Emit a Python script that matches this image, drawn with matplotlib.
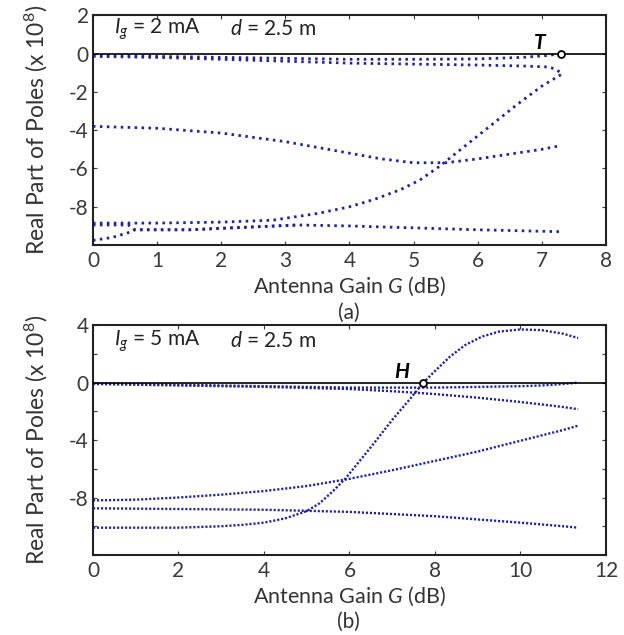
import matplotlib
matplotlib.use("Agg")
import matplotlib.pyplot as plt

plt.rcParams['font.family'] = ['Lato', 'DejaVu Sans']
plt.rcParams['mathtext.fontset'] = 'custom'
plt.rcParams['mathtext.rm'] = 'Lato'
plt.rcParams['mathtext.it'] = 'Lato:italic'

# ---- panel (a): Ig = 2 mA ----
a_g1 = [0, 1, 2, 3, 4, 5, 6, 6.7, 7.1, 7.3]
a_y1 = [-0.1, -0.15, -0.2, -0.25, -0.3, -0.3, -0.28, -0.2, -0.1, 0.0]
a_g2 = [0, 1, 2, 3, 4, 5, 6, 6.7, 7.1, 7.2, 7.3]
a_y2 = [-0.15, -0.2, -0.3, -0.4, -0.5, -0.55, -0.6, -0.65, -0.7, -0.8, -1.0]
a_g3 = [0, 1, 2, 3, 4, 4.5, 5, 5.5, 6, 6.5, 7, 7.3]
a_y3 = [-3.8, -3.9, -4.15, -4.6, -5.2, -5.5, -5.7, -5.7, -5.5, -5.25, -5.0, -4.8]
a_g4 = [0, 1, 2, 2.8, 3.5, 4, 4.4, 4.8, 5.1, 5.4, 6.0, 6.6, 7.0, 7.3]
a_y4 = [-8.85, -8.85, -8.8, -8.7, -8.35, -8.0, -7.6, -7.1, -6.6, -5.9, -4.3, -2.7, -1.7, -1.1]
a_g5 = [0, 0.55, 0.65, 1.5, 2.5, 3.2, 4, 5, 6, 7.3]
a_y5 = [-8.95, -8.95, -9.2, -9.2, -9.05, -8.95, -9.0, -9.1, -9.2, -9.3]
a_g6 = [0, 0.3, 0.6, 0.65, 1.5, 2.5, 3.2]
a_y6 = [-9.75, -9.6, -9.3, -9.2, -9.2, -9.05, -8.95]

# ---- panel (b): Ig = 5 mA ----
b_g1 = [0, 1, 2, 3, 3.5, 4, 4.5, 5, 5.3, 5.6, 5.9, 6.5, 7, 7.4, 7.73, 8, 8.35, 8.7, 9.1, 9.5, 10, 10.5, 11, 11.35]
b_y1 = [-10.1, -10.1, -10.1, -10.0, -9.9, -9.75, -9.45, -8.95, -8.4, -7.6, -6.7, -4.5, -2.6, -1.2, 0, 0.8, 1.8, 2.6, 3.2, 3.55, 3.7, 3.65, 3.4, 3.1]
b_g2 = [0, 2, 4, 6, 8, 9, 10, 10.5, 11, 11.35]
b_y2 = [-0.05, -0.15, -0.25, -0.35, -0.35, -0.3, -0.25, -0.2, -0.1, 0.0]
b_g3 = [0, 2, 4, 6, 7, 8, 9, 10, 11, 11.35]
b_y3 = [-0.1, -0.2, -0.3, -0.45, -0.6, -0.8, -1.05, -1.35, -1.7, -1.85]
b_g4 = [0, 1, 2, 3, 4, 5, 6, 7, 8, 9, 10, 11, 11.35]
b_y4 = [-8.2, -8.15, -8.0, -7.8, -7.55, -7.2, -6.7, -6.1, -5.45, -4.8, -4.05, -3.3, -3.0]
b_g5 = [0, 2, 4, 6, 8, 10, 11, 11.35]
b_y5 = [-8.75, -8.8, -8.85, -9.0, -9.3, -9.75, -10.0, -10.1]

blue = '#2020a8'
tick_col = '#3a3a3a'

fig = plt.figure(figsize=(6.24, 6.35), dpi=100)
ax1 = fig.add_axes([0.149, 0.614, 0.822, 0.362])
ax2 = fig.add_axes([0.149, 0.126, 0.822, 0.362])

for g, y in [(a_g1, a_y1), (a_g2, a_y2), (a_g3, a_y3), (a_g4, a_y4), (a_g5, a_y5), (a_g6, a_y6)]:
    ax1.plot(g, y, color=blue, lw=2.0, linestyle=(0, (0.9, 1.6)), zorder=2)
for g, y in [(b_g1, b_y1), (b_g2, b_y2), (b_g3, b_y3), (b_g4, b_y4), (b_g5, b_y5)]:
    ax2.plot(g, y, color=blue, lw=1.7, linestyle=(0, (0.9, 0.8)), zorder=2)

for ax in (ax1, ax2):
    ax.axhline(0, color='black', lw=1.2, zorder=3)
    ax.tick_params(direction='in', top=True, right=True, length=3, pad=4,
                   labelsize=15, colors=tick_col, labelcolor=tick_col)
    ax.tick_params(axis='y', pad=3)
    for s in ax.spines.values():
        s.set_linewidth(1.5)
        s.set_color('#222222')
    ax.set_ylabel(r'Real Part of Poles (x 10$^8$)', fontsize=16.5, color='#333333', labelpad=14)

# panel (a)
ax1.set_xlim(0, 8)
ax1.set_ylim(-10, 2)
ax1.set_xticks(range(0, 9))
ax1.set_yticks([2, 0, -2, -4, -6, -8, -10])
ax1.set_yticklabels(['2', '0', '-2', '-4', '-6', '-8', ''])
ax1.plot([7.3], [0], 'o', mfc='white', mec='black', ms=5, mew=1.3, zorder=4)
ax1.text(6.97, 0.55, 'T', fontsize=15, fontweight='bold', style='italic', ha='center', va='center')
ax1.text(0.33, 1.27, r'$I_g$ = 2 mA', fontsize=15, va='center', color='#222222')
ax1.text(2.14, 1.27, r'$d$ = 2.5 m', fontsize=15, va='center', color='#222222')
ax1.set_xlabel(r'Antenna Gain $G$ (dB)', fontsize=15.5, color='#333333', labelpad=3)
fig.text(0.559, 0.508, '(a)', fontsize=15, ha='center', va='center', color='#333333')

# panel (b)
ax2.set_xlim(0, 12)
ax2.set_ylim(-12, 4)
ax2.set_xticks(range(0, 13, 2))
ax2.set_yticks([4, 2, 0, -2, -4, -6, -8, -10, -12])
ax2.set_yticklabels(['4', '', '0', '', '-4', '', '-8', '', ''])
ax2.plot([7.73], [0], 'o', mfc='white', mec='black', ms=5, mew=1.3, zorder=4)
ax2.text(7.23, 0.75, 'H', fontsize=15, fontweight='bold', style='italic', ha='center', va='center')
ax2.text(0.5, 2.9, r'$I_g$ = 5 mA', fontsize=15, va='center', color='#222222')
ax2.text(3.2, 2.9, r'$d$ = 2.5 m', fontsize=15, va='center', color='#222222')
ax2.set_xlabel(r'Antenna Gain $G$ (dB)', fontsize=15.5, color='#333333', labelpad=3)
fig.text(0.559, 0.02, '(b)', fontsize=15, ha='center', va='center', color='#333333')

fig.savefig('out.png', dpi=100)
